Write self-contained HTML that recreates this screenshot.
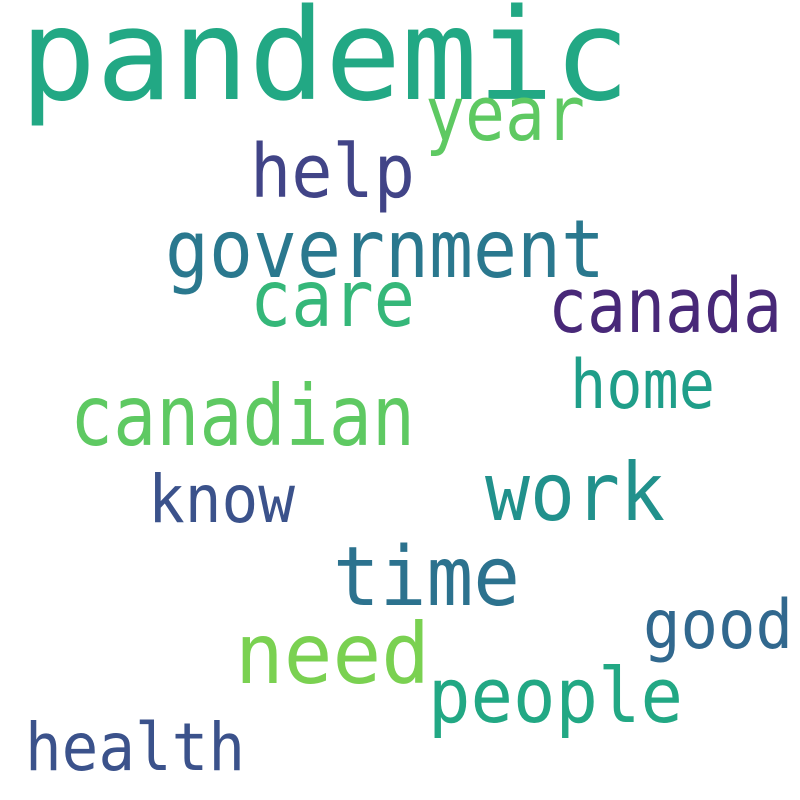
<!DOCTYPE html>
<html><head><meta charset="utf-8"><style>
html,body{margin:0;padding:0;background:#fff;}
svg{display:block;}
text{font-family:"DejaVu Sans Mono","Liberation Mono",monospace;}
</style></head><body>
<svg width="800" height="800" viewBox="0 0 800 800">
<rect width="800" height="800" fill="#fff"/>
<g id="words"></g>
</svg>
<script>
const words = ["pandemic","year","help","government","care","canada","home","canadian","work","know","time","good","need","people","health"];
const sizes = [127,76,74,80,78,76,68,84,80,66,82,68,84,76,66];
const colors = ["#22a884","#5ec962","#414487","#2a788e","#35b779","#482878","#1f9e89","#5ec962","#21918c","#3b528b","#2c728e","#31688e","#7ad151","#22a884","#3b528b"];
const xs = [20,425,250,165,250,548,570,70,485,148,333,643,235,428,25];
const ys = [99,140,197,277,326,332,408,445,520,522,605,648,683,722,770];
const widths = [610,160,165,440,165,234,145,345,180,147,187,150,195,255,220];
const g = document.getElementById('words');
const NS = "http://www.w3.org/2000/svg";
words.forEach((w,i)=>{
  const t = document.createElementNS(NS,'text');
  t.setAttribute('x', xs[i]);
  t.setAttribute('y', ys[i]);
  t.setAttribute('font-size', sizes[i]);
  t.setAttribute('fill', colors[i]);
  t.setAttribute('textLength', widths[i]);
  t.setAttribute('lengthAdjust', 'spacingAndGlyphs');
  
  
  t.textContent = w;
  g.appendChild(t);
});
</script>
</body></html>
